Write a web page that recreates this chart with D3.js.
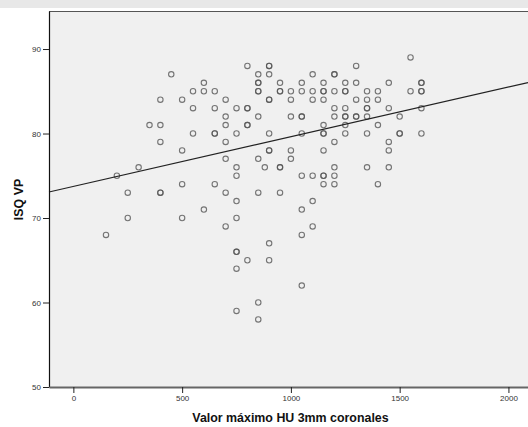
<!DOCTYPE html>
<html>
<head>
<meta charset="utf-8">
<script src="https://cdn.jsdelivr.net/npm/d3@7"></script>
<style>
  body { margin: 0; background: #fff; }
  svg { display: block; }
</style>
</head>
<body>
<svg id="chart"></svg>
<script>
// HU value (x) and ISQ VP (y) for each case, one line per ISQ row
const huValues = [
  1550,
  800, 900, 900, 1300,
  450, 850, 900, 1100, 1200, 1200,
  600, 850, 850, 950, 1050, 1150, 1250, 1300, 1450, 1600, 1600,
  550, 600, 650, 850, 850, 950, 950, 1000, 1050, 1100, 1150, 1150, 1200, 1250, 1250, 1350, 1400, 1550, 1600, 1600,
  400, 500, 700, 900, 900, 1000, 1100, 1150, 1300, 1350, 1400,
  550, 650, 750, 800, 800, 1200, 1250, 1350, 1350, 1450, 1600,
  700, 850, 1000, 1050, 1050, 1200, 1250, 1250, 1300, 1300, 1350, 1500,
  350, 400, 700, 800, 800, 1150, 1250, 1400,
  550, 650, 650, 750, 900, 1050, 1150, 1150, 1250, 1350, 1500, 1500, 1600,
  400, 700, 1200, 1450,
  500, 900, 900, 1000, 1150, 1450,
  700, 850, 1000,
  300, 750, 880, 950, 950, 1200, 1350, 1450,
  200, 750, 1050, 1100, 1150, 1150, 1200,
  500, 650, 1150, 1200, 1400,
  250, 400, 400, 700, 850, 950,
  750, 1100,
  600, 1050,
  250, 500, 750,
  700, 1100,
  150, 1050,
  900,
  750, 750,
  800, 900,
  750,
  1050,
  850,
  750,
  850
];
const isqValues = [
  89,
  88, 88, 88, 88,
  87, 87, 87, 87, 87, 87,
  86, 86, 86, 86, 86, 86, 86, 86, 86, 86, 86,
  85, 85, 85, 85, 85, 85, 85, 85, 85, 85, 85, 85, 85, 85, 85, 85, 85, 85, 85, 85,
  84, 84, 84, 84, 84, 84, 84, 84, 84, 84, 84,
  83, 83, 83, 83, 83, 83, 83, 83, 83, 83, 83,
  82, 82, 82, 82, 82, 82, 82, 82, 82, 82, 82, 82,
  81, 81, 81, 81, 81, 81, 81, 81,
  80, 80, 80, 80, 80, 80, 80, 80, 80, 80, 80, 80, 80,
  79, 79, 79, 79,
  78, 78, 78, 78, 78, 78,
  77, 77, 77,
  76, 76, 76, 76, 76, 76, 76, 76,
  75, 75, 75, 75, 75, 75, 75,
  74, 74, 74, 74, 74,
  73, 73, 73, 73, 73, 73,
  72, 72,
  71, 71,
  70, 70, 70,
  69, 69,
  68, 68,
  67,
  66, 66,
  65, 65,
  64,
  62,
  60,
  59,
  58
];
const xTicks = [0, 500, 1000, 1500, 2000];
const yTicks = [50, 60, 70, 80, 90];
const fitIntercept = 73.74;
const fitSlope = 0.00588;
const xTitle = "Valor máximo HU 3mm coronales";
const yTitle = "ISQ VP";

const width = 528, height = 427;
const plotLeft = 49, plotRight = 528, plotTop = 11, plotBottom = 387;

const svg = d3.select("#chart").attr("width", width).attr("height", height);

// light strip at the very top
svg.append("rect").attr("x", 0).attr("y", 0).attr("width", width).attr("height", 8).attr("fill", "#e8e8e8");

const x = d3.scaleLinear().domain([-112, 2090]).range([plotLeft, plotRight]);
const y = d3.scaleLinear().domain([50, 94.5]).range([plotBottom, plotTop]);

svg.append("rect")
  .attr("x", plotLeft).attr("y", plotTop)
  .attr("width", plotRight - plotLeft).attr("height", plotBottom - plotTop)
  .attr("fill", "#f0f0f0");

svg.append("line")
  .attr("x1", plotLeft).attr("x2", plotRight).attr("y1", plotTop + 0.5).attr("y2", plotTop + 0.5)
  .attr("stroke", "#555").attr("stroke-width", 1);

// points
const pts = huValues.map((d, i) => [d, isqValues[i]]);
svg.append("g")
  .selectAll("circle")
  .data(pts)
  .enter()
  .append("circle")
    .attr("cx", d => x(d[0]))
    .attr("cy", d => y(d[1]))
    .attr("r", 2.7)
    .attr("fill", "none")
    .attr("stroke", "#555")
    .attr("stroke-width", 1.1)
    .attr("stroke-opacity", 0.8);

// fit line
const dom = x.domain();
svg.append("line")
  .attr("x1", x(dom[0])).attr("y1", y(fitIntercept + fitSlope * dom[0]))
  .attr("x2", x(dom[1])).attr("y2", y(fitIntercept + fitSlope * dom[1]))
  .attr("stroke", "#222").attr("stroke-width", 1.2);

// axes
const yAxis = svg.append("g")
  .attr("transform", "translate(" + plotLeft + ",0)")
  .call(d3.axisLeft(y).tickValues(yTicks).tickFormat(d3.format("d")).tickSizeInner(6).tickSizeOuter(0).tickPadding(2));
yAxis.select(".domain").attr("stroke", "#111").attr("stroke-width", 1.2);

const xAxis = svg.append("g")
  .attr("transform", "translate(0," + plotBottom + ")")
  .call(d3.axisBottom(x).tickValues(xTicks).tickFormat(d3.format("d")).tickSizeInner(6).tickSizeOuter(0).tickPadding(2));
xAxis.select(".domain").attr("stroke", "#666").attr("stroke-width", 2);

svg.selectAll(".tick line").attr("stroke", "#222");
svg.selectAll(".tick text")
  .attr("fill", "#333")
  .style("font-family", "'Liberation Sans', Arial, sans-serif")
  .style("font-size", "8px");

svg.append("text")
  .attr("x", 290.5).attr("y", 421.5)
  .attr("text-anchor", "middle")
  .style("font-family", "'Liberation Sans', Arial, sans-serif")
  .style("font-size", "12.4px")
  .style("font-weight", "bold")
  .attr("fill", "#111")
  .text(xTitle);

svg.append("text")
  .attr("transform", "translate(22.5,199.5) rotate(-90)")
  .attr("text-anchor", "middle")
  .style("font-family", "'Liberation Sans', Arial, sans-serif")
  .style("font-size", "12.4px")
  .style("font-weight", "bold")
  .attr("fill", "#111")
  .text(yTitle);
</script>
</body>
</html>
